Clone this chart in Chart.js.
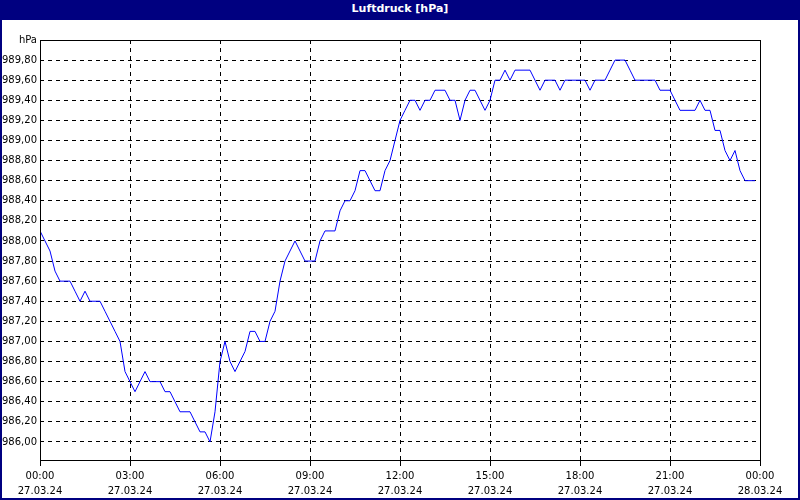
<!DOCTYPE html>
<html>
<head>
<meta charset="utf-8">
<script src="https://cdn.jsdelivr.net/npm/chart.js@4"></script>
<style>
  body { margin: 0; background: #fff; }
  #bar { width: 800px; height: 20px; background: #000080; color: #fff; font: bold 11px "DejaVu Sans", sans-serif; text-align: center; line-height: 18px; }
  #frame { width: 796px; height: 478px; border: 2px solid #000080; border-top: none; }
</style>
</head>
<body>
<div id="bar">Luftdruck [hPa]</div>
<div id="frame"><canvas id="chart" width="796" height="478"></canvas></div>
<script>
// pressure every 10 minutes, 27.03.24 00:00 .. 23:50
const pressure = [
    988.1, 988.0, 987.9, 987.7, 987.6, 987.6,
    987.6, 987.5, 987.4, 987.5, 987.4, 987.4,
    987.4, 987.3, 987.2, 987.1, 987.0, 986.7,
    986.6, 986.5, 986.6, 986.7, 986.6, 986.6,
    986.6, 986.5, 986.5, 986.4, 986.3, 986.3,
    986.3, 986.2, 986.1, 986.1, 986.0, 986.3,
    986.8, 987.0, 986.8, 986.7, 986.8, 986.9,
    987.1, 987.1, 987.0, 987.0, 987.2, 987.3,
    987.6, 987.8, 987.9, 988.0, 987.9, 987.8,
    987.8, 987.8, 988.0, 988.1, 988.1, 988.1,
    988.3, 988.4, 988.4, 988.5, 988.7, 988.7,
    988.6, 988.5, 988.5, 988.7, 988.8, 989.0,
    989.2, 989.3, 989.4, 989.4, 989.3, 989.4,
    989.4, 989.5, 989.5, 989.5, 989.4, 989.4,
    989.2, 989.4, 989.5, 989.5, 989.4, 989.3,
    989.4, 989.6, 989.6, 989.7, 989.6, 989.7,
    989.7, 989.7, 989.7, 989.6, 989.5, 989.6,
    989.6, 989.6, 989.5, 989.6, 989.6, 989.6,
    989.6, 989.6, 989.5, 989.6, 989.6, 989.6,
    989.7, 989.8, 989.8, 989.8, 989.7, 989.6,
    989.6, 989.6, 989.6, 989.6, 989.5, 989.5,
    989.5, 989.4, 989.3, 989.3, 989.3, 989.3,
    989.4, 989.3, 989.3, 989.1, 989.1, 988.9,
    988.8, 988.9, 988.7, 988.6, 988.6, 988.6
];
const timeLabels = ['00:00', '03:00', '06:00', '09:00', '12:00', '15:00', '18:00', '21:00', '00:00'];
const dateLabels = ['27.03.24', '27.03.24', '27.03.24', '27.03.24', '27.03.24', '27.03.24', '27.03.24', '27.03.24', '28.03.24'];
const yTicks = [986.0, 986.2, 986.4, 986.6, 986.8, 987.0, 987.2, 987.4, 987.6, 987.8,
                988.0, 988.2, 988.4, 988.6, 988.8, 989.0, 989.2, 989.4, 989.6, 989.8, 990.0];

const font = { family: 'DejaVu Sans', size: 10 };

// solid frame around the plot area
const framePlugin = {
    id: 'frame',
    afterDraw(chart) {
        const a = chart.chartArea;
        const c = chart.ctx;
        c.save();
        c.strokeStyle = '#000';
        c.lineWidth = 1;
        c.strokeRect(Math.round(a.left) + 0.5, Math.round(a.top) + 0.5, Math.round(a.right - a.left), Math.round(a.bottom - a.top));
        c.restore();
    }
};

new Chart(document.getElementById('chart'), {
    type: 'line',
    data: {
        datasets: [{
            data: pressure.map((v, i) => ({ x: i, y: v })),
            borderColor: '#0000ff',
            borderWidth: 1,
            pointRadius: 0,
            tension: 0
        }]
    },
    options: {
        responsive: false,
        animation: false,
        layout: { padding: { top: 20, right: 38, left: 0, bottom: 0 } },
        plugins: { legend: { display: false }, tooltip: { enabled: false } },
        scales: {
            x: {
                type: 'linear',
                min: 0,
                max: 144,
                afterBuildTicks: s => { s.ticks = timeLabels.map((t, i) => ({ value: i * 18 })); },
                afterFit: s => { s.height = 38; },
                ticks: {
                    color: '#000',
                    font: { family: 'DejaVu Sans', size: 10, lineHeight: 1.5 },
                    maxRotation: 0,
                    autoSkip: false,
                    padding: 3,
                    callback: (v, i) => [timeLabels[i], dateLabels[i]]
                },
                grid: { color: '#000', tickLength: 6, drawOnChartArea: true },
                border: { display: false, dash: [4, 4] }
            },
            y: {
                min: 985.82,
                max: 990.0,
                afterBuildTicks: s => { s.ticks = yTicks.map(v => ({ value: v })); },
                afterFit: s => { s.width = 38; },
                ticks: {
                    color: '#000',
                    font: font,
                    padding: 3,
                    callback: v => v >= 990 ? 'hPa' : v.toFixed(2).replace('.', ',')
                },
                grid: { color: '#000', drawTicks: false },
                border: { display: false, dash: [4, 4] }
            }
        }
    },
    plugins: [framePlugin]
});
</script>
</body>
</html>
